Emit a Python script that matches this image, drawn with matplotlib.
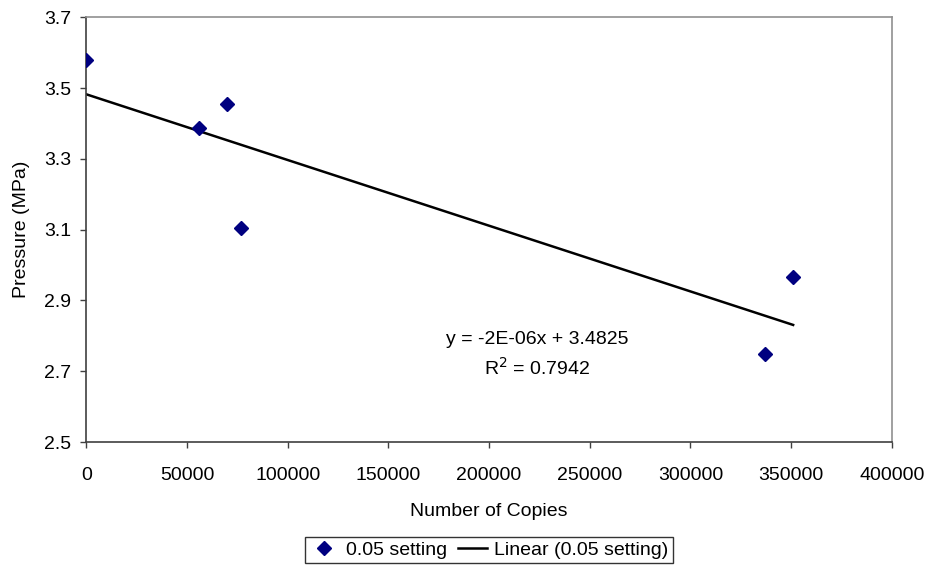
import numpy as np
from matplotlib import pyplot as plt
from matplotlib.lines import Line2D

plt.rcParams['font.family'] = ['Liberation Sans', 'DejaVu Sans']

copies = [0, 56000, 70000, 77000, 337000, 351000]
pressure = [3.58, 3.388, 3.456, 3.104, 2.748, 2.965]
eq_text = 'y = -2E-06x + 3.4825'
r2_text = 'R$^2$ = 0.7942'

fs = 14

fig = plt.figure(figsize=(9.28, 5.66), dpi=100)
ax = fig.add_axes([0.093, 0.219, 0.868, 0.7504])

ax.plot(copies, pressure, 'D', color='#000080', markersize=6.7, linestyle='none', zorder=3)

# linear trend line from the points
k, b = np.polyfit(copies, pressure, 1)
xs = np.array([min(copies), max(copies)])
ax.plot(xs, k*xs+b, '-', color='black', linewidth=1.8, zorder=2)

ax.text(224000, 2.789, eq_text, ha='center', va='center', fontsize=fs)
ax.text(224000, 2.710, r2_text, ha='center', va='center', fontsize=fs)

ax.set_xlim(0, 400000)
ax.set_ylim(2.5, 3.7)
ax.set_xticks(np.arange(0, 400001, 50000))
ax.set_yticks(np.arange(2.5, 3.71, 0.2))
ax.set_yticklabels(['%.1f' % v for v in np.arange(2.5, 3.71, 0.2)])
ax.tick_params(labelsize=fs, length=4, width=1, direction='out', color='#404040')
ax.tick_params(axis='x', pad=14)
ax.tick_params(axis='y', pad=7)
ax.spines['left'].set_color('#404040')
ax.spines['bottom'].set_color('#404040')
ax.spines['top'].set_color('#909090')
ax.spines['right'].set_color('#909090')
for s in ax.spines.values():
    s.set_linewidth(1.2)

ax.set_xlabel('Number of Copies', fontsize=fs, labelpad=14)
ax.set_ylabel('Pressure (MPa)', fontsize=fs, labelpad=10)

handles = [Line2D([], [], marker='D', color='#000080', linestyle='none', markersize=6.7),
           Line2D([], [], color='black', linewidth=1.8)]
leg = fig.legend(handles, ['0.05 setting', 'Linear (0.05 setting)'], loc='lower center',
                 bbox_to_anchor=(0.527, 0.0), ncol=2, fontsize=fs, frameon=True, fancybox=False,
                 handlelength=1.5, handletextpad=0.35, columnspacing=0.6, borderpad=0.22,
                 borderaxespad=0.15)
leg.get_frame().set_edgecolor('black')
leg.get_frame().set_linewidth(1)

plt.savefig('out.png', dpi=100)
